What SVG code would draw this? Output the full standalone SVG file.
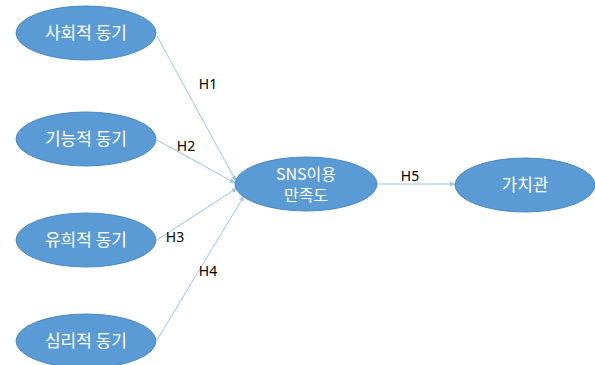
<svg xmlns="http://www.w3.org/2000/svg" width="595" height="365" viewBox="0 0 595 365">
<style>
.node ellipse{fill:#5b9bd5;stroke:#4a8ac4;stroke-width:1}
.node text{fill:#ffffff;font-family:"Noto Sans CJK KR","Noto Sans",sans-serif;font-size:17px;text-anchor:middle}
.node text.two{font-size:16px}
.lbl{fill:#000000;font-family:"Noto Sans","Noto Sans CJK KR",sans-serif;font-size:14px;text-anchor:middle}
.conn line{stroke:#9dc3e6;stroke-width:1;marker-end:url(#arr)}
</style>
<defs>
<marker id="arr" viewBox="0 0 10 10" refX="9" refY="5" markerWidth="6" markerHeight="6" orient="auto" markerUnits="userSpaceOnUse">
<path d="M0,1 L10,5 L0,9 z" fill="#9dc3e6"/>
</marker>
</defs>
<rect width="595" height="365" fill="#ffffff"/>
<g id="connectors" class="conn">
<line x1="157" y1="36" x2="236" y2="181"/>
<line x1="157" y1="140" x2="235" y2="183"/>
<line x1="157" y1="240" x2="237" y2="188"/>
<line x1="157" y1="340" x2="244" y2="196"/>
<line x1="377" y1="184" x2="455" y2="184"/>
</g>
<g id="labels">
<text class="lbl" x="208" y="89">H1</text>
<text class="lbl" x="186" y="151">H2</text>
<text class="lbl" x="175" y="242">H3</text>
<text class="lbl" x="208" y="276">H4</text>
<text class="lbl" x="410" y="181">H5</text>
</g>
<g id="n1" class="node"><ellipse cx="86" cy="33" rx="70" ry="27"/><text x="86" y="39">사회적 동기</text></g>
<g id="n2" class="node"><ellipse cx="86" cy="139" rx="70" ry="27"/><text x="86" y="145">기능적 동기</text></g>
<g id="n3" class="node"><ellipse cx="86" cy="240" rx="70" ry="27"/><text x="86" y="246">유희적 동기</text></g>
<g id="n4" class="node"><ellipse cx="86" cy="341" rx="70" ry="27"/><text x="86" y="347">심리적 동기</text></g>
<g id="n5" class="node"><ellipse cx="306" cy="184" rx="71" ry="27"/><text class="two" x="306" y="180">SNS이용</text><text class="two" x="306" y="201">만족도</text></g>
<g id="n6" class="node"><ellipse cx="525" cy="185" rx="70" ry="27"/><text x="525" y="191">가치관</text></g>
</svg>
